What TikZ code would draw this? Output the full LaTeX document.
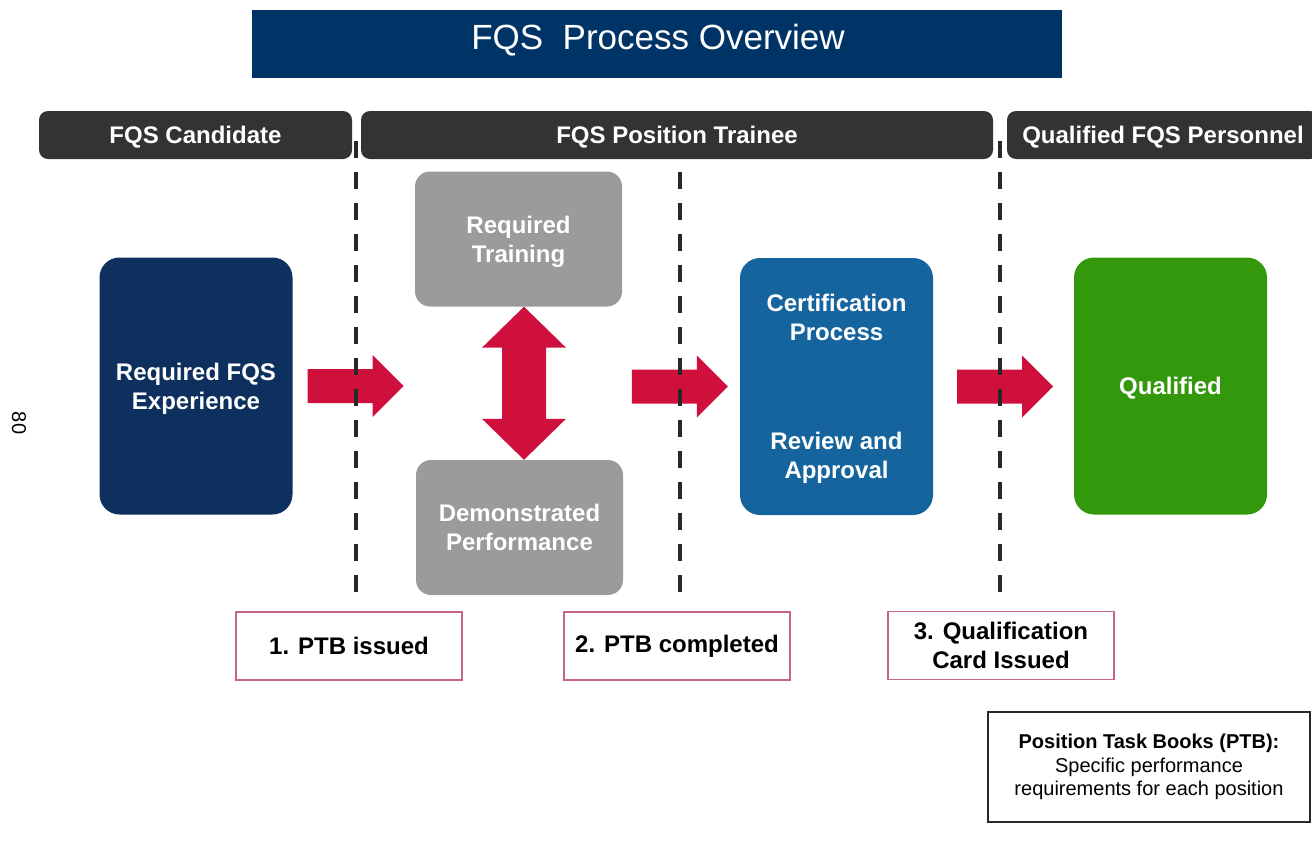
\documentclass[tikz,border=0pt]{standalone}
\usepackage{fontspec}
\setmainfont{Liberation Sans}
\usetikzlibrary{calc,positioning}

\definecolor{titleblue}{RGB}{0,51,102}
\definecolor{expblue}{RGB}{14,48,94}
\definecolor{certblue}{RGB}{22,100,158}
\definecolor{qualgreen}{RGB}{52,152,12}
\definecolor{boxgray}{RGB}{155,155,155}
\definecolor{headgray}{RGB}{52,51,49}
\definecolor{arrowred}{RGB}{208,16,60}
\definecolor{stepborder}{RGB}{200,100,140}
\definecolor{dashgray}{RGB}{40,40,40}

\tikzset{
	x=1pt, y=-1pt,
	boldtext/.style={font=\fontsize{24}{29}\selectfont\bfseries},
	header/.style={fill=headgray, rounded corners=9pt, minimum height=48pt, text=white, text depth=0pt, boldtext},
	bigbox/.style={rounded corners=20pt, minimum width=193pt, minimum height=257pt, text=white, align=center, boldtext,
		text depth=-1.5pt},
	graybox/.style={fill=boxgray, rounded corners=15pt, minimum width=207pt, minimum height=135pt, text=white, align=center, boldtext,
		text depth=-4pt},
	stepbox/.style={draw=stepborder, line width=1.6pt, minimum width=226pt, minimum height=68pt, align=center, boldtext},
	phase/.style={dashgray, line width=4pt, dash pattern=on 17pt off 14pt},
	rarrow/.pic={\fill[arrowred] (0,-17) -- (65,-17) -- (65,-31) -- (96,0) -- (65,31) -- (65,17) -- (0,17) -- cycle;}
}

\begin{document}
\begin{tikzpicture}
	\useasboundingbox (0,0) rectangle (1312,841);

	\node[fill=titleblue, minimum width=810pt, minimum height=68pt] (titlebar) at (657,44) {};
	\node[text=white, font=\fontsize{35}{40}\selectfont] (title) at (658,40) {FQS\ \ Process Overview};

	\node[header, minimum width=313pt] (candidate) at (195.5,135) {FQS Candidate};
	\node[header, minimum width=632pt] (trainee) at (677,135) {FQS Position Trainee};
	\node[header, minimum width=312pt] (personnel) at (1163,135) {Qualified FQS Personnel};

	\node[bigbox, fill=expblue] (exp) at (196,386) {Required FQS\\Experience};
	\node[graybox] (train) at (518.5,239) {Required\\Training};
	\node[graybox] (demo) at (519.5,527.5) {Demonstrated\\Performance};
	\node[bigbox, fill=certblue] (cert) at (836.5,386.5) {Certification\\Process\\[80pt]Review and\\Approval};
	\node[bigbox, fill=qualgreen] (qual) at (1170.5,386) {Qualified};

	\pic at ($(exp.east)+(15,0)$) {rarrow};
	\pic at ($(cert.west)+(-108,0)$) {rarrow};
	\pic at ($(cert.east)+(24,0)$) {rarrow};

	\coordinate (up) at ($(train.south)+(5.5,0)$);
	\coordinate (down) at ($(demo.north)+(4.5,0)$);
	\fill[arrowred] (up) -- ++(42,41) -- ++(-20,0) -- ($(down)+(22,-41)$) -- ++(20,0) -- (down)
		-- ++(-42,-41) -- ++(20,0) -- ($(up)+(-22,41)$) -- ++(-20,0) -- cycle;

	\draw[phase] (356,141) -- (356,600);
	\draw[phase] (680,172) -- (680,600);
	\draw[phase] (1000,141) -- (1000,600);

	\node[stepbox] (issued) at (349,646) {1. PTB issued};
	\node[stepbox] (completed) at (677,646) {2. PTB completed};
	\node[stepbox] (card) at (1001,645.5) {3. Qualification\\Card Issued};

	\node[draw=dashgray, line width=1.5pt, minimum width=322pt, minimum height=110pt, align=center,
		font=\fontsize{20}{23.5}\selectfont] (ptb) at (1149,767)
		{\textbf{Position Task Books (PTB):}\\Specific performance\\requirements for each position};

	\node[rotate=-90, font=\fontsize{20}{20}\selectfont] (pagenum) at (19,423) {80};
\end{tikzpicture}
\end{document}
